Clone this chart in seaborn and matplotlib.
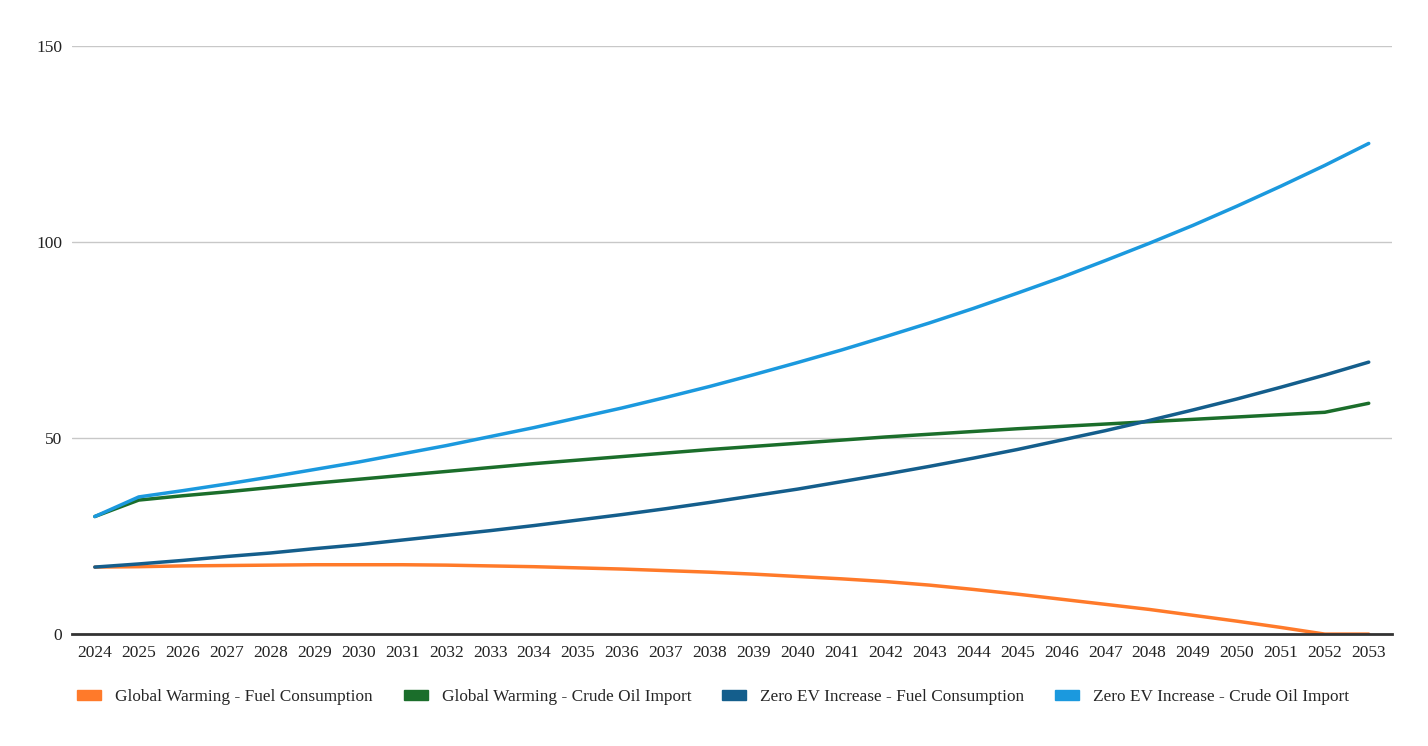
import matplotlib
matplotlib.use("Agg")
import matplotlib.pyplot as plt
import seaborn as sns
import pandas as pd
from matplotlib.patches import Patch

years = list(range(2024, 2054))

gw_fuel = [17.1, 17.2, 17.4, 17.5, 17.6, 17.7, 17.7, 17.7, 17.6, 17.4,
           17.2, 16.9, 16.6, 16.2, 15.8, 15.3, 14.7, 14.1, 13.4, 12.5,
           11.4, 10.2, 8.9, 7.6, 6.3, 4.8, 3.3, 1.7, 0.0, 0.0]
gw_crude = [30.0, 34.2, 35.3, 36.3, 37.4, 38.5, 39.5, 40.5, 41.5, 42.5,
            43.5, 44.4, 45.3, 46.2, 47.1, 47.9, 48.7, 49.5, 50.3, 51.0,
            51.7, 52.4, 53.0, 53.6, 54.2, 54.8, 55.4, 56.0, 56.6, 58.9]
zero_fuel = [17.1, 17.9, 18.8, 19.8, 20.7, 21.8, 22.8, 24.0, 25.2, 26.4,
             27.7, 29.1, 30.5, 32.0, 33.6, 35.3, 37.0, 38.9, 40.8, 42.8,
             44.9, 47.1, 49.5, 51.9, 54.5, 57.2, 60.0, 63.0, 66.1, 69.4]
zero_crude = [30.0, 35.0, 36.6, 38.3, 40.1, 42.0, 43.9, 46.0, 48.1, 50.4,
              52.7, 55.2, 57.7, 60.4, 63.2, 66.2, 69.3, 72.5, 75.9, 79.4,
              83.1, 87.0, 91.0, 95.3, 99.7, 104.3, 109.2, 114.3, 119.6, 125.2]

series_names = ["Global Warming - Fuel Consumption",
                "Global Warming - Crude Oil Import",
                "Zero EV Increase - Fuel Consumption",
                "Zero EV Increase - Crude Oil Import"]
colors = ["#ff7a2a", "#1b6e2b", "#145e8c", "#1b99de"]
y_ticks = [0, 50, 100, 150]

frames = []
for name, vals in zip(series_names, [gw_fuel, gw_crude, zero_fuel, zero_crude]):
    frames.append(pd.DataFrame({"Year": years, "Value": vals, "Series": name}))
df = pd.concat(frames, ignore_index=True)

sns.set_theme(style="white")
plt.rcParams["font.family"] = ["Liberation Serif", "DejaVu Serif"]

fig = plt.figure(figsize=(14.28, 7.46), dpi=100)
ax = fig.add_axes([0.0504, 0.150, 0.9244, 0.788])

sns.lineplot(data=df, x="Year", y="Value", hue="Series", hue_order=series_names,
             palette=colors, linewidth=2.5, ax=ax, legend=False)

ax.set_xlim(2023.48, 2053.53)
ax.set_ylim(0, 150)
ax.set_xticks(years)
ax.set_xticklabels([str(y) for y in years], fontsize=12.5, color="#222222")
ax.set_yticks(y_ticks)
ax.set_yticklabels([str(v) for v in y_ticks], fontsize=12.5, color="#222222")
ax.tick_params(axis="x", length=0, pad=8)
ax.tick_params(axis="y", length=0, pad=7)
ax.set_xlabel("")
ax.set_ylabel("")
ax.grid(axis="y", color="#c8c8c8", linewidth=1)
ax.grid(axis="x", visible=False)
for s in ["left", "right", "top"]:
    ax.spines[s].set_visible(False)
ax.spines["bottom"].set_color("#333333")
ax.spines["bottom"].set_linewidth(2)
ax.set_axisbelow(True)

handles = [Patch(facecolor=c, edgecolor=c) for c in colors]
fig.legend(handles, series_names, loc="center", bbox_to_anchor=(0.4995, 0.066),
           ncol=4, frameon=False, fontsize=12.4, handlelength=1.4,
           handleheight=0.5, handletextpad=0.8, columnspacing=1.8)

fig.savefig("out.png", dpi=100, facecolor="white")
